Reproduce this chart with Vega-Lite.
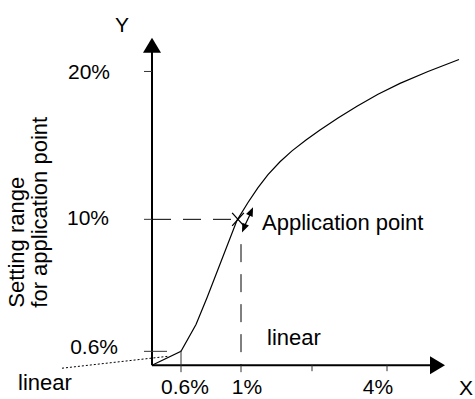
{
  "$schema": "https://vega.github.io/schema/vega-lite/v6.json",
  "width": 475,
  "height": 399,
  "autosize": {"type": "fit", "contains": "padding"},
  "padding": 0,
  "background": "white",
  "config": {"view": {"stroke": null}, "text": {"font": "Liberation Sans", "color": "black"}},
  "datasets": {
    "curve": [
      {"x": 0, "y": 0}, {"x": 2.9, "y": 1.4}, {"x": 4.4, "y": 4.1}, {"x": 5.5, "y": 6.8},
      {"x": 8.5, "y": 14.6}, {"x": 9.6, "y": 16.4}, {"x": 10.6, "y": 17.9}, {"x": 11.6, "y": 19.2},
      {"x": 12.8, "y": 20.5}, {"x": 14.0, "y": 21.6}, {"x": 15.4, "y": 22.7}, {"x": 16.8, "y": 23.7},
      {"x": 18.6, "y": 24.9}, {"x": 20.5, "y": 26.1}, {"x": 22.6, "y": 27.3}, {"x": 24.8, "y": 28.4},
      {"x": 27.6, "y": 29.6}, {"x": 30.7, "y": 30.8}
    ],
    "axes": [
      {"x": 0, "y": 0, "x2": 0, "y2": 31.6},
      {"x": 0, "y": 0, "x2": 28.0, "y2": 0}
    ],
    "ticks": [
      {"x": -0.8, "y": 29.6, "x2": 0, "y2": 29.6},
      {"x": -0.8, "y": 14.7, "x2": 0, "y2": 14.7},
      {"x": -0.8, "y": 1.4, "x2": 1.5, "y2": 1.4},
      {"x": 2.9, "y": 1.5, "x2": 2.9, "y2": -0.7},
      {"x": 8.9, "y": 0, "x2": 8.9, "y2": -0.7},
      {"x": 16.0, "y": 0, "x2": 16.0, "y2": -0.6},
      {"x": 23.5, "y": 0, "x2": 23.5, "y2": -0.6}
    ],
    "dashed": [
      {"x": 0.1, "y": 14.7, "x2": 8.0, "y2": 14.7},
      {"x": 8.9, "y": 12.2, "x2": 8.9, "y2": 0}
    ],
    "dotted": [
      {"x": -9.0, "y": -0.3, "x2": 1.6, "y2": 0.9}
    ],
    "arrowShaft": [
      {"x": 9.1, "y": 13.7, "x2": 10.0, "y2": 15.6}
    ],
    "headUp": [{"x": 0, "y": 32.25}],
    "headRight": [{"x": 28.55, "y": 0}],
    "headNE": [{"x": 9.92, "y": 15.5}],
    "headSW": [{"x": 9.18, "y": 13.8}],
    "marker": [{"x": 8.6, "y": 14.7}],
    "labelsRight": [
      {"x": -4.2, "y": 28.8, "label": "20%"},
      {"x": -4.3, "y": 14.1, "label": "10%"},
      {"x": -3.4, "y": 1.1, "label": "0.6%"}
    ],
    "labelsCenter": [
      {"x": -3.0, "y": 33.6, "label": "Y"},
      {"x": 3.3, "y": -2.9, "label": "0.6%"},
      {"x": 9.5, "y": -2.9, "label": "1%"},
      {"x": 22.6, "y": -2.9, "label": "4%"},
      {"x": 31.4, "y": -3.0, "label": "X"}
    ],
    "labelsLeft": [
      {"x": -13.4, "y": -2.5, "label": "linear"},
      {"x": 11.5, "y": 2.0, "label": "linear"},
      {"x": 11.0, "y": 13.6, "label": "Application point"}
    ],
    "labelsRotated": [
      {"x": -13.5, "y": 5.8, "label": "Setting range"},
      {"x": -11.2, "y": 5.8, "label": "for application point"}
    ]
  },
  "encoding": {
    "x": {"field": "x", "type": "quantitative", "scale": {"domain": [-15.2, 32.3], "nice": false, "zero": false}, "axis": null},
    "y": {"field": "y", "type": "quantitative", "scale": {"domain": [-3.1, 36.8], "nice": false, "zero": false}, "axis": null}
  },
  "layer": [
    {"data": {"name": "curve"}, "mark": {"type": "line", "color": "black", "strokeWidth": 1.2}},
    {"data": {"name": "axes"}, "mark": {"type": "rule", "color": "black", "strokeWidth": 2}, "encoding": {"x2": {"field": "x2"}, "y2": {"field": "y2"}}},
    {"data": {"name": "ticks"}, "mark": {"type": "rule", "color": "#333333", "strokeWidth": 1}, "encoding": {"x2": {"field": "x2"}, "y2": {"field": "y2"}}},
    {"data": {"name": "dashed"}, "mark": {"type": "rule", "color": "black", "strokeWidth": 1, "strokeDash": [18, 12]}, "encoding": {"x2": {"field": "x2"}, "y2": {"field": "y2"}}},
    {"data": {"name": "dotted"}, "mark": {"type": "rule", "color": "black", "strokeWidth": 1, "strokeDash": [2, 2]}, "encoding": {"x2": {"field": "x2"}, "y2": {"field": "y2"}}},
    {"data": {"name": "arrowShaft"}, "mark": {"type": "rule", "color": "black", "strokeWidth": 1.2}, "encoding": {"x2": {"field": "x2"}, "y2": {"field": "y2"}}},
    {"data": {"name": "headUp"}, "mark": {"type": "point", "shape": "M0,-1L1.2,1L-1.2,1Z", "size": 225, "filled": true, "color": "black", "opacity": 1}},
    {"data": {"name": "headRight"}, "mark": {"type": "point", "shape": "M1,0L-1,1.2L-1,-1.2Z", "size": 225, "filled": true, "color": "black", "opacity": 1}},
    {"data": {"name": "headNE"}, "mark": {"type": "point", "shape": "M0,-1L0.8,1L-0.8,1Z", "size": 81, "angle": 24, "filled": true, "color": "black", "opacity": 1}},
    {"data": {"name": "headSW"}, "mark": {"type": "point", "shape": "M0,-1L0.8,1L-0.8,1Z", "size": 81, "angle": 204, "filled": true, "color": "black", "opacity": 1}},
    {"data": {"name": "marker"}, "mark": {"type": "point", "shape": "M-0.9,-1L0.9,1M0.9,-1L-0.9,1", "size": 169, "filled": false, "color": "black", "strokeWidth": 1.3, "opacity": 1}},
    {"data": {"name": "labelsRight"}, "mark": {"type": "text", "align": "right", "baseline": "alphabetic", "fontSize": 21}, "encoding": {"text": {"field": "label"}}},
    {"data": {"name": "labelsCenter"}, "mark": {"type": "text", "align": "center", "baseline": "alphabetic", "fontSize": 21}, "encoding": {"text": {"field": "label"}}},
    {"data": {"name": "labelsLeft"}, "mark": {"type": "text", "align": "left", "baseline": "alphabetic", "fontSize": 22}, "encoding": {"text": {"field": "label"}}},
    {"data": {"name": "labelsRotated"}, "mark": {"type": "text", "align": "left", "baseline": "middle", "angle": 270, "fontSize": 22}, "encoding": {"text": {"field": "label"}}}
  ]
}
